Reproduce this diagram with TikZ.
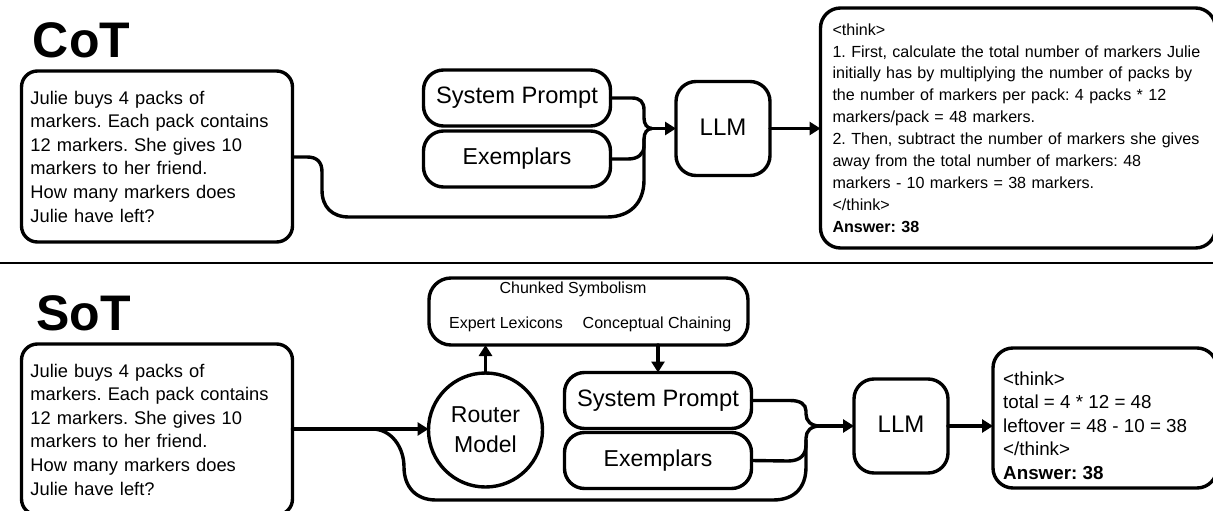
\documentclass[tikz,border=0pt]{standalone}
\usepackage{fontspec}
\setmainfont{Liberation Sans}
\usetikzlibrary{arrows.meta,calc}
\tikzset{
  box/.style={draw=black,line width=3.4pt,rounded corners=#1,fill=white,inner sep=0pt,outer sep=0pt},
  box/.default=18pt,
  qbox/.style={box=16pt,minimum width=271pt,minimum height=171pt,text width=253pt,align=left,font=\fontsize{18.3}{23.6}\selectfont},
  ansbox/.style={box=20pt,align=left,font=\fontsize{16.1}{21.9}\selectfont},
  prompt/.style={box=20pt,minimum width=187pt,minimum height=56pt,font=\fontsize{23.7}{26}\selectfont},
  exbox/.style={prompt,font=\fontsize{23}{26}\selectfont},
  llm/.style={box=20pt,minimum width=94pt,minimum height=94pt,text height=17pt,text depth=4pt,font=\fontsize{24}{26}\selectfont},
  title/.style={inner sep=0pt,anchor=base,font=\fontsize{50}{60}\selectfont\bfseries},
  small/.style={inner sep=0pt,font=\fontsize{16}{18}\selectfont},
  wire/.style={line width=3.4pt,line cap=round,draw=black},
  arrow/.style={wire,-{Triangle[length=11pt,width=13pt]}},
}
\begin{document}
\frenchspacing
\begin{tikzpicture}[x=1pt,y=-1pt]
\useasboundingbox (0,0) rectangle (1213,511);
% CoT
\node[title] (cot) at (81.5,58) {CoT};
\node[qbox] (q1) at (157,156.5) {Julie buys 4 packs of\\markers. Each pack contains\\12 markers. She gives 10\\markers to her friend.\\How many markers does\\Julie have left?};
\node[prompt] (sp1) at (517,98) {System Prompt};
\node[exbox] (ex1) at (517,159) {Exemplars};
\node[llm] (llm1) at (723,128.5) {LLM};
\node[ansbox,minimum width=395pt,minimum height=240pt,text width=371pt] (a1) at (1018,128) {<think>\\1. First, calculate the total number of markers Julie\\initially has by multiplying the number of packs by\\the number of markers per pack: 4 packs * 12\\markers/pack = 48 markers.\\2. Then, subtract the number of markers she gives\\away from the total number of markers: 48\\markers - 10 markers = 38 markers.\\</think>\\\textbf{Answer: 38}};
\coordinate (j1) at (652,128.5);
\draw[wire] (sp1.east) -- (632,98) .. controls (640,98) and (644,102) .. (644,110) -- (644,118) .. controls (644,124) and (647,128.5) .. (j1);
\draw[wire] (ex1.east) -- (628,159) .. controls (638,159) and (644,154) .. (644,146) -- (644,139) .. controls (644,133) and (647,128.5) .. (j1);
\draw[wire] (q1.east |- 0,157) -- (307,157) .. controls (317,157) and (322,162) .. (322,172) -- (322,190) .. controls (322,207) and (332,217) .. (349,217) -- (607,217) .. controls (630,217) and (644,203) .. (644,180) -- (644,139);
\draw[arrow] (j1) -- (llm1.west);
\draw[arrow] (llm1.east) -- (a1.west |- llm1.east);
% separator
\draw[line width=2pt] (0,263) -- (1213,263);
% SoT
\node[title] (sot) at (83.5,330) {SoT};
\node[qbox] (q2) at (157,429.5) {Julie buys 4 packs of\\markers. Each pack contains\\12 markers. She gives 10\\markers to her friend.\\How many markers does\\Julie have left?};
\node[box=22pt,minimum width=319pt,minimum height=67pt] (chunk) at (588.5,311.5) {};
\node[small] (cs) at (573,289) {Chunked Symbolism};
\node[small] (el) at (506,324) {Expert Lexicons};
\node[small] (cc) at (657,324) {Conceptual Chaining};
\node[draw=black,line width=3.4pt,fill=white,circle,minimum size=114pt,inner sep=0pt,outer sep=0pt,align=center,font=\fontsize{23}{30}\selectfont] (router) at (485.5,430) {Router\\Model};
\node[prompt] (sp2) at (658,400.5) {System Prompt};
\node[exbox] (ex2) at (658,460.5) {Exemplars};
\node[llm] (llm2) at (901,426) {LLM};
\node[box=20pt,minimum width=224pt,minimum height=140pt] (a2) at (1105,418) {};
\node[inner sep=0pt,anchor=west,align=left,font=\fontsize{18.8}{23.5}\selectfont] (a2t) at (1003,425.5) {<think>\\total = 4 * 12 = 48\\leftover = 48 - 10 = 38\\</think>\\\textbf{Answer: 38}};
\coordinate (j2) at (820,426);
\coordinate (m2) at (372,429);
\draw[arrow] (q2.east |- 0,429) -- (router.west |- 0,429);
\draw[wire] (m2) .. controls (392,429) and (404,448) .. (404,467) .. controls (404,487) and (416,500) .. (436,500) -- (773,500) .. controls (795,500) and (806,487) .. (806,467) -- (806,440);
\draw[wire] (sp2.east) -- (790,400.5) .. controls (800,400.5) and (806,404) .. (806,411) -- (806,414) .. controls (806,421) and (811,426) .. (j2);
\draw[wire] (ex2.east) -- (788,461) .. controls (800,461) and (806,455) .. (806,445) -- (806,438) .. controls (806,431) and (811,426) .. (j2);
\draw[arrow] (j2) -- (llm2.west);
\draw[arrow] (llm2.east) -- (a2.west |- llm2.east);
\draw[arrow] (router.north) -- (router.north |- chunk.south);
\draw[arrow] (sp2.north |- chunk.south) -- (sp2.north);
\end{tikzpicture}
\end{document}
